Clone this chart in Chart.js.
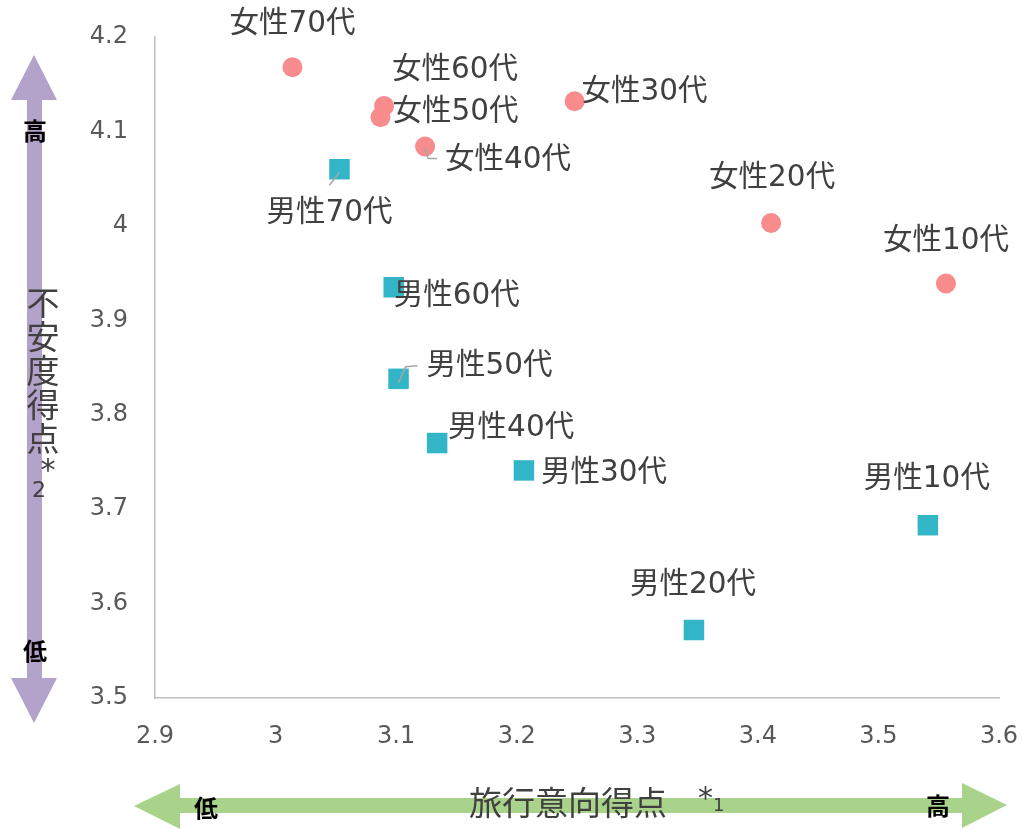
<!DOCTYPE html>
<html>
<head>
<meta charset="utf-8">
<script src="https://cdn.jsdelivr.net/npm/chart.js@4"></script>
<style>
  body { margin: 0; background: #fff; }
</style>
</head>
<body>
<canvas id="myChart" width="1027" height="830"></canvas>
<script>
// data
const womenLabels = ['女性10代', '女性20代', '女性30代', '女性40代', '女性50代', '女性60代', '女性70代'];
const womenX = [3.556, 3.411, 3.248, 3.124, 3.087, 3.090, 3.014];
const womenY = [3.939, 4.003, 4.132, 4.084, 4.115, 4.127, 4.168];

const menLabels = ['男性10代', '男性20代', '男性30代', '男性40代', '男性50代', '男性60代', '男性70代'];
const menX = [3.541, 3.347, 3.206, 3.134, 3.102, 3.098, 3.053];
const menY = [3.683, 3.572, 3.741, 3.770, 3.838, 3.935, 4.060];

const xTicks = [2.9, 3.0, 3.1, 3.2, 3.3, 3.4, 3.5, 3.6];
const yTicks = [3.5, 3.6, 3.7, 3.8, 3.9, 4.0, 4.1, 4.2];

// label placement (offset of the text centre from the point) and leader lines
const womenLabelPos = [[0, -42], [1, -45], [70, -9], [83, 14], [75, -5], [71, -36], [0, -43]];
const menLabelPos = [[-1, -46], [-1, -45], [80, 3], [74, -15], [91, -12], [63, 9], [-10, 44]];
const womenLeaders = [null, null, null, [[-1, 1], [3, 12], [12, 12]], null, null, null];
const menLeaders = [null, null, null, null, [[0, 4], [7, -12], [19, -13]], null, [[0, 3], [-10, 16]]];

const labelFont = '29.5px "DejaVu Sans", "Noto Sans CJK JP", sans-serif';
const textColor = '#404040';

function toPoints(xs, ys) {
  let pts = [];
  for (let i = 0; i < xs.length; i++) {
    pts.push({x: xs[i], y: ys[i]});
  }
  return pts;
}

function fmt(v) {
  return String(Number(v.toFixed(1)));
}

const pointLabels = {
  id: 'pointLabels',
  afterDatasetsDraw(chart) {
    const ctx = chart.ctx;
    const sets = [
      [womenLabels, womenLabelPos, womenLeaders],
      [menLabels, menLabelPos, menLeaders]
    ];
    ctx.save();
    sets.forEach((s, di) => {
      const meta = chart.getDatasetMeta(di);
      meta.data.forEach((el, i) => {
        const lead = s[2][i];
        if (lead) {
          ctx.strokeStyle = '#a6a6a6';
          ctx.lineWidth = 1.5;
          ctx.beginPath();
          ctx.moveTo(el.x + lead[0][0], el.y + lead[0][1]);
          for (let k = 1; k < lead.length; k++) {
            ctx.lineTo(el.x + lead[k][0], el.y + lead[k][1]);
          }
          ctx.stroke();
        }
        ctx.font = labelFont;
        ctx.fillStyle = textColor;
        ctx.textAlign = 'center';
        ctx.textBaseline = 'middle';
        ctx.fillText(s[0][i], el.x + s[1][i][0], el.y + s[1][i][1]);
      });
    });
    ctx.restore();
  }
};

// the purple / green double arrows with axis titles
const arrows = {
  id: 'arrows',
  beforeDraw(chart) {
    const ctx = chart.ctx;
    ctx.save();
    // vertical purple arrow
    ctx.fillStyle = '#b3a2c9';
    ctx.beginPath();
    ctx.moveTo(34, 55); ctx.lineTo(57, 100); ctx.lineTo(42, 100);
    ctx.lineTo(42, 678); ctx.lineTo(57, 678); ctx.lineTo(34, 723);
    ctx.lineTo(11, 678); ctx.lineTo(27, 678); ctx.lineTo(27, 100);
    ctx.lineTo(11, 100); ctx.closePath();
    ctx.fill();
    // horizontal green arrow
    ctx.fillStyle = '#a9d38a';
    ctx.beginPath();
    ctx.moveTo(134, 806); ctx.lineTo(180, 784); ctx.lineTo(180, 798);
    ctx.lineTo(962, 798); ctx.lineTo(962, 783); ctx.lineTo(1007, 805);
    ctx.lineTo(962, 828); ctx.lineTo(962, 813); ctx.lineTo(180, 813);
    ctx.lineTo(180, 829); ctx.closePath();
    ctx.fill();

    ctx.textAlign = 'center';
    ctx.textBaseline = 'middle';
    ctx.fillStyle = '#000';
    ctx.font = 'bold 24px "Noto Sans CJK JP", sans-serif';
    ctx.fillText('高', 35, 131);
    ctx.fillText('低', 35, 651);
    ctx.fillText('低', 206, 808);
    ctx.fillText('高', 938, 806);

    ctx.fillStyle = textColor;
    ctx.font = '33px "Noto Sans CJK JP", sans-serif';
    const vTitle = '不安度得点';
    for (let i = 0; i < vTitle.length; i++) {
      ctx.fillText(vTitle[i], 43, 302 + i * 34);
    }
    ctx.font = '30px "DejaVu Sans", sans-serif';
    ctx.fillText('*', 48, 472);
    ctx.font = '22px "DejaVu Sans", sans-serif';
    ctx.fillText('2', 39, 491);

    ctx.textAlign = 'left';
    ctx.font = '33px "Noto Sans CJK JP", sans-serif';
    ctx.fillText('旅行意向得点', 469, 802);
    ctx.font = '30px "DejaVu Sans", sans-serif';
    ctx.fillText('*', 698, 800);
    ctx.font = '18px "DejaVu Sans", sans-serif';
    ctx.fillText('1', 713, 806);
    ctx.restore();
  }
};

const tickFont = {family: '"DejaVu Sans", sans-serif', size: 24};

new Chart(document.getElementById('myChart'), {
  type: 'scatter',
  data: {
    datasets: [{
      label: '女性',
      data: toPoints(womenX, womenY),
      pointStyle: 'circle',
      pointRadius: 10,
      pointHoverRadius: 10,
      backgroundColor: '#f88b8b',
      borderWidth: 0
    }, {
      label: '男性',
      data: toPoints(menX, menY),
      pointStyle: 'rect',
      pointRadius: 14.5,
      pointHoverRadius: 14.5,
      backgroundColor: '#33b5c8',
      borderWidth: 0
    }]
  },
  options: {
    responsive: false,
    animation: false,
    layout: { padding: { left: 0, right: 28, top: 37, bottom: 0 } },
    plugins: {
      legend: { display: false },
      tooltip: { enabled: false }
    },
    scales: {
      x: {
        type: 'linear',
        min: xTicks[0],
        max: xTicks[xTicks.length - 1],
        afterBuildTicks: (scale) => { scale.ticks = xTicks.map(v => ({value: v})); },
        afterFit: (scale) => {
          scale.height = 132;
          scale.paddingLeft = 0;
          scale.paddingRight = 0;
        },
        grid: { display: false, drawTicks: false },
        border: { display: true, color: '#bfbfbf', width: 1.5 },
        ticks: { padding: 24, color: '#595959', font: tickFont, callback: (v) => fmt(v) }
      },
      y: {
        type: 'linear',
        min: yTicks[0],
        max: yTicks[yTicks.length - 1],
        afterBuildTicks: (scale) => { scale.ticks = yTicks.map(v => ({value: v})); },
        afterFit: (scale) => {
          scale.width = 155;
          scale.paddingTop = 0;
          scale.paddingBottom = 0;
        },
        grid: { display: false, drawTicks: false },
        border: { display: true, color: '#bfbfbf', width: 1.5 },
        ticks: { padding: 27, color: '#595959', font: tickFont, callback: (v) => fmt(v) }
      }
    }
  },
  plugins: [arrows, pointLabels]
});
</script>
</body>
</html>
